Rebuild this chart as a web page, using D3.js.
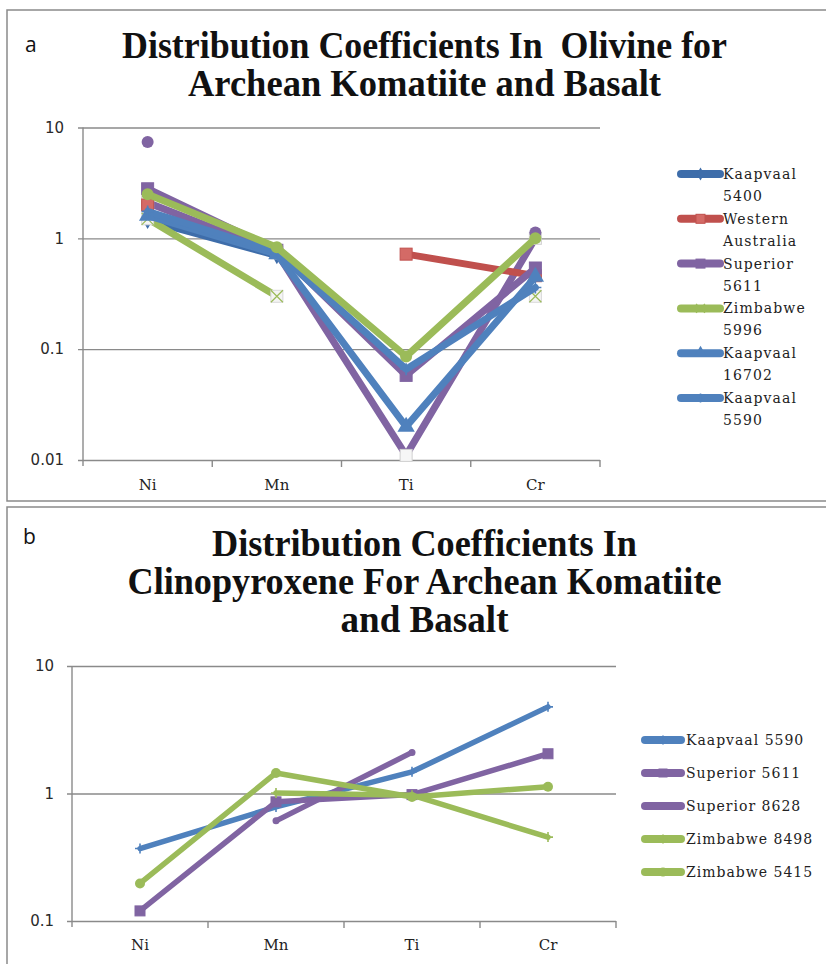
<!DOCTYPE html>
<html><head><meta charset="utf-8">
<script src="https://cdn.jsdelivr.net/npm/d3@7"></script>
<style>body{margin:0;background:#fff}svg{display:block}</style>
</head><body><svg id="c" width="826" height="964"></svg>
<script>
// ---------- data ----------
const categories = ["Ni", "Mn", "Ti", "Cr"];
const tickValuesA = [0.01, 0.1, 1, 10];
const tickLabelsA = ["0.01", "0.1", "1", "10"];
const tickValuesB = [0.1, 1, 10];
const tickLabelsB = ["0.1", "1", "10"];
const titleA = ["Distribution Coefficients In  Olivine for", "Archean Komatiite and Basalt"];
const titleB = ["Distribution Coefficients In", "Clinopyroxene For Archean Komatiite", "and Basalt"];

// panel a (olivine)  values for Ni, Mn, Ti, Cr (drawing order)
const seriesNamesA = ["Kaapvaal 5400", "Series 7", "Western Australia", "Superior 5611", "Zimbabwe 5996", "Kaapvaal 16702", "Kaapvaal 5590", "Series 8", "Series 9"];
const legendNamesA = ["Kaapvaal 5400", "Western Australia", "Superior 5611", "Zimbabwe 5996", "Kaapvaal 16702", "Kaapvaal 5590"];
const kaapvaal5400A = [1.45, 0.70, null, null];
const series7A = [2.1, 0.74, 0.011, 1.0];
const westernAustraliaA = [2.0, null, 0.72, 0.46];
const superior5611A = [2.8, 0.78, 0.058, 0.54];
const zimbabwe5996A = [1.5, 0.30, null, 0.30];
const kaapvaal16702A = [1.6, 0.72, 0.020, 0.45];
const kaapvaal5590A = [1.75, 0.75, 0.066, 0.36];
const series8A = [7.4, null, null, 1.13];
const series9A = [2.5, 0.83, 0.086, 1.0];
const valuesA = [kaapvaal5400A, series7A, westernAustraliaA, superior5611A, zimbabwe5996A, kaapvaal16702A, kaapvaal5590A, series8A, series9A];

// panel b (clinopyroxene)
const seriesNamesB = ["Kaapvaal 5590", "Superior 5611", "Superior 8628", "Zimbabwe 8498", "Zimbabwe 5415"];
const kaapvaal5590B = [0.37, 0.785, 1.48, 4.78];
const superior5611B = [0.12, 0.86, 0.98, 2.05];
const superior8628B = [null, 0.61, 2.1, null];
const zimbabwe8498B = [null, 1.01, 0.97, 0.455];
const zimbabwe5415B = [0.197, 1.45, 0.94, 1.13];
const valuesB = [kaapvaal5590B, superior5611B, superior8628B, zimbabwe8498B, zimbabwe5415B];

// ---------- styles ----------
const BLUE = "#4F81BD", DBLUE = "#3E6DAA", RED = "#C0504D", GREEN = "#9BBB59", PURPLE = "#8064A2";
const styleA = {
  "Kaapvaal 5400": {color: DBLUE, marker: "diamond", fill: DBLUE},
  "Western Australia": {color: RED, marker: "square", fill: "#D46A66"},
  "Superior 5611": {color: PURPLE, marker: "square", fill: PURPLE},
  "Zimbabwe 5996": {color: GREEN, marker: "x", fill: "#fff"},
  "Kaapvaal 16702": {color: BLUE, marker: "triangle", fill: BLUE},
  "Kaapvaal 5590": {color: BLUE, marker: "plus", fill: BLUE},
  "Series 7": {color: PURPLE, marker: "box", fill: "#fff"},
  "Series 8": {color: PURPLE, marker: "circle", fill: PURPLE},
  "Series 9": {color: GREEN, marker: "circle", fill: GREEN}
};
const styleB = {
  "Kaapvaal 5590": {color: BLUE, marker: "plus", fill: BLUE},
  "Superior 5611": {color: PURPLE, marker: "square", fill: PURPLE},
  "Superior 8628": {color: PURPLE, marker: "circle", fill: PURPLE},
  "Zimbabwe 8498": {color: GREEN, marker: "plus", fill: GREEN},
  "Zimbabwe 5415": {color: GREEN, marker: "circle", fill: GREEN}
};

const svg = d3.select("#c");
const GRID = "#8a8a8a";

// panel borders
svg.append("rect").attr("x", 7).attr("y", 10).attr("width", 840).attr("height", 491)
  .attr("fill", "none").attr("stroke", GRID).attr("stroke-width", 1.5);
svg.append("rect").attr("x", 7).attr("y", 507).attr("width", 840).attr("height", 480)
  .attr("fill", "none").attr("stroke", GRID).attr("stroke-width", 1.5);

function drawMarker(g, type, cx, cy, size, color, fill) {
  const s = size;
  if (type === "circle") {
    g.append("circle").attr("cx", cx).attr("cy", cy).attr("r", s / 2).attr("fill", fill);
  } else if (type === "square") {
    g.append("rect").attr("x", cx - s / 2).attr("y", cy - s / 2).attr("width", s).attr("height", s)
      .attr("fill", fill).attr("stroke", color).attr("stroke-width", 1);
  } else if (type === "diamond") {
    g.append("path").attr("transform", `translate(${cx},${cy})`)
      .attr("d", d3.symbol(d3.symbolDiamond, s * s * 0.6)()).attr("fill", fill);
  } else if (type === "triangle") {
    g.append("path").attr("transform", `translate(${cx},${cy})`)
      .attr("d", d3.symbol(d3.symbolTriangle, s * s * 0.9)()).attr("fill", fill);
  } else if (type === "plus") {
    g.append("path").attr("d", `M${cx},${cy - s / 2}V${cy + s / 2}M${cx - s / 2},${cy}H${cx + s / 2}`)
      .attr("stroke", color).attr("stroke-width", 1.6).attr("fill", "none");
  } else if (type === "x") {
    g.append("rect").attr("x", cx - s / 2).attr("y", cy - s / 2).attr("width", s).attr("height", s)
      .attr("fill", "#f4f4f4").attr("stroke", "#d8d8d8").attr("stroke-width", 1);
    g.append("path").attr("d", `M${cx - s / 2},${cy - s / 2}L${cx + s / 2},${cy + s / 2}M${cx - s / 2},${cy + s / 2}L${cx + s / 2},${cy - s / 2}`)
      .attr("stroke", color).attr("stroke-width", 1.2).attr("fill", "none");
  } else if (type === "box") {
    g.append("rect").attr("x", cx - s / 2).attr("y", cy - s / 2).attr("width", s).attr("height", s)
      .attr("fill", "#f6f6f6").attr("stroke", "#d0d0d0").attr("stroke-width", 1);
  }
}

function panel(opt) {
  const {x0, x1, yTop, yBot, domain, tickValues, tickLabels, names, values, styles, lw, ms, labelX, labelRight, tickOut} = opt;
  const g = svg.append("g");
  const x = d3.scaleBand().domain(categories).range([x0, x1]);
  const y = d3.scaleLog().domain(domain).range([yBot, yTop]);
  const cx = c => x(c) + x.bandwidth() / 2;

  // gridlines + left axis
  const yAxis = d3.axisLeft(y).tickValues(tickValues).tickFormat((d, i) => tickLabels[i]).tickSize(0).tickPadding(0);
  const ga = g.append("g").attr("transform", `translate(${x0},0)`).call(yAxis);
  ga.select(".domain").remove();
  ga.selectAll(".tick text").attr("x", labelRight - x0).attr("text-anchor", "end")
    .attr("font-family", "DejaVu Sans, Verdana, sans-serif").attr("font-size", 15).attr("fill", "#2a2a2a");
  ga.selectAll(".tick").append("line").attr("x1", -tickOut).attr("x2", x1 - x0)
    .attr("stroke", GRID).attr("stroke-width", 1.4);
  g.append("line").attr("x1", x0).attr("x2", x0).attr("y1", yTop).attr("y2", yBot + 6)
    .attr("stroke", GRID).attr("stroke-width", 1.4);

  // bottom axis: labels centered, ticks at band boundaries
  const xAxis = d3.axisBottom(x).tickSize(0).tickPadding(0);
  const gb = g.append("g").attr("transform", `translate(0,${yBot})`).call(xAxis);
  gb.select(".domain").remove();
  gb.selectAll(".tick text").attr("y", labelX).attr("dy", 0)
    .attr("font-family", "DejaVu Serif, Cambria, serif").attr("font-size", 15).attr("fill", "#222");
  categories.forEach(c => {
    g.append("line").attr("x1", x(c) + x.bandwidth()).attr("x2", x(c) + x.bandwidth())
      .attr("y1", yBot).attr("y2", yBot + 7).attr("stroke", GRID).attr("stroke-width", 1.4);
  });

  // series
  names.forEach((n, i) => {
    const st = styles[n];
    const pts = categories.map((c, j) => ({c, v: values[i][j]}));
    const line = d3.line().defined(d => d.v != null).x(d => cx(d.c)).y(d => y(d.v));
    g.append("path").attr("d", line(pts)).attr("fill", "none").attr("stroke", st.color)
      .attr("stroke-width", lw).attr("stroke-linejoin", "round").attr("stroke-linecap", "round");
    pts.filter(d => d.v != null).forEach(d => {
      drawMarker(g, st.marker, cx(d.c), y(d.v), st.marker === "circle" && n === "Superior 8628" ? ms - 3 : ms, st.color, st.fill);
    });
  });
}

panel({x0: 83, x1: 600, yTop: 127.5, yBot: 460, domain: [0.01, 10], tickValues: tickValuesA, tickLabels: tickLabelsA,
  names: seriesNamesA, values: valuesA, styles: styleA, lw: 7, ms: 12, labelX: 30, labelRight: 64, tickOut: 5});
panel({x0: 72, x1: 616, yTop: 666, yBot: 921, domain: [0.1, 10], tickValues: tickValuesB, tickLabels: tickLabelsB,
  names: seriesNamesB, values: valuesB, styles: styleB, lw: 5.5, ms: 10, labelX: 29, labelRight: 54, tickOut: 5});

// titles
const titleFont = "Liberation Serif, Times New Roman, serif";
const titleWidthsA = [605, 473];
titleA.forEach((t, i) => {
  svg.append("text").attr("x", 424.5).attr("y", 58 + i * 38).attr("text-anchor", "middle")
    .attr("font-family", titleFont).attr("font-weight", "bold").attr("font-size", 38)
    .attr("textLength", titleWidthsA[i]).attr("lengthAdjust", "spacingAndGlyphs")
    .style("white-space", "pre").attr("fill", "#111").text(t);
});
const titleWidthsB = [425, 594, 168];
titleB.forEach((t, i) => {
  svg.append("text").attr("x", 424.5).attr("y", 556 + i * 38).attr("text-anchor", "middle")
    .attr("font-family", titleFont).attr("font-weight", "bold").attr("font-size", 38)
    .attr("textLength", titleWidthsB[i]).attr("lengthAdjust", "spacingAndGlyphs")
    .style("white-space", "pre").attr("fill", "#111").text(t);
});
svg.append("text").attr("x", 25).attr("y", 52).attr("font-family", "Open Sans, Liberation Sans, sans-serif")
  .attr("font-size", 21).attr("fill", "#111").text("a");
svg.append("text").attr("x", 23).attr("y", 544).attr("font-family", "Open Sans, Liberation Sans, sans-serif")
  .attr("font-size", 21).attr("fill", "#111").text("b");

// legends
const legFont = "DejaVu Serif, Cambria, serif";
function legendSwatch(g, st, xa, xb, yy, lw, ms) {
  g.append("line").attr("x1", xa).attr("x2", xb).attr("y1", yy).attr("y2", yy)
    .attr("stroke", st.color).attr("stroke-width", lw).attr("stroke-linecap", "round");
  drawMarker(g, st.marker === "x" ? "xl" : st.marker, (xa + xb) / 2, yy, ms, st.color, st.fill);
  if (st.marker === "x") {
    const cx = (xa + xb) / 2, s = ms;
    g.append("path").attr("d", `M${cx - s / 2},${yy - s / 2}L${cx + s / 2},${yy + s / 2}M${cx - s / 2},${yy + s / 2}L${cx + s / 2},${yy - s / 2}`)
      .attr("stroke", st.color).attr("stroke-width", 1.2);
  }
}
const legA = svg.append("g");
legendNamesA.forEach((n, i) => {
  const yy = 174 + i * 44.8;
  legendSwatch(legA, styleA[n], 681, 720, yy, 8, 9);
  const words = n.split(" ");
  words.forEach((w, k) => {
    legA.append("text").attr("x", 723).attr("y", yy + 5 + k * 22).attr("font-family", legFont)
      .attr("font-size", 14).attr("letter-spacing", 1.1).attr("fill", "#222").text(w);
  });
});
const legB = svg.append("g");
seriesNamesB.forEach((n, i) => {
  const yy = 740 + i * 33;
  legendSwatch(legB, styleB[n], 645, 681, yy, 8, n.includes("Superior") ? 8 : 9);
  legB.append("text").attr("x", 686).attr("y", yy + 5).attr("font-family", legFont)
    .attr("font-size", 14).attr("letter-spacing", 1.0).attr("fill", "#222").text(n);
});
</script></body></html>
